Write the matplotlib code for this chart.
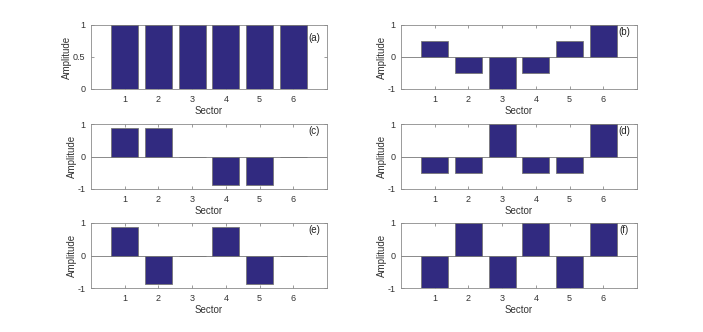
import matplotlib
matplotlib.use("Agg")
import matplotlib.pyplot as plt

plt.rcParams['font.family'] = ['Liberation Sans', 'DejaVu Sans']
plt.rcParams['axes.unicode_minus'] = False

sectors = [1, 2, 3, 4, 5, 6]
tick_labels = ['1', '2', '3', '4', '5', '6']
amp_a = [1, 1, 1, 1, 1, 1]
amp_b = [0.5, -0.5, -1, -0.5, 0.5, 1]
amp_c = [0.866, 0.866, 0, -0.866, -0.866, 0]
amp_d = [-0.5, -0.5, 1, -0.5, -0.5, 1]
amp_e = [0.866, -0.866, 0, 0.866, -0.866, 0]
amp_f = [-1, 1, -1, 1, -1, 1]
panel_labels = ['(a)', '(b)', '(c)', '(d)', '(e)', '(f)']
series = [amp_a, amp_b, amp_c, amp_d, amp_e, amp_f]

fig = plt.figure(figsize=(7.03, 3.32), dpi=100)
lefts = [91/703, 401/703]
w = 236/703
rows = [(25, 89), (124, 189), (223, 288)]

bar_color = '#312a80'
axis_color = '#8a8a8a'
text_color = '#333333'

for i, (vals, lab) in enumerate(zip(series, panel_labels)):
    r, c = divmod(i, 2)
    top, bot = rows[r]
    ax = fig.add_axes([lefts[c], 1 - bot/332, w, (bot - top)/332])
    ax.bar(sectors, vals, width=0.8, color=bar_color, edgecolor='#777777', linewidth=0.6, zorder=3)
    ax.set_xlim(0, 7)
    if i == 0:
        ax.set_ylim(0, 1)
        ax.set_yticks([0, 0.5, 1])
        ax.set_yticklabels(['0', '0.5', '1'])
        lab_y = 0.79
    else:
        ax.set_ylim(-1, 1)
        ax.set_yticks([-1, 0, 1])
        ax.set_yticklabels(['-1', '0', '1'])
        ax.axhline(0, color='#8a8a8a', linewidth=0.7, zorder=2)
        lab_y = 0.89
    ax.set_xticks(sectors)
    ax.set_xticklabels(tick_labels)
    ax.tick_params(direction='in', top=True, right=True, length=2.5, width=0.6,
                   labelsize=6.5, colors=axis_color, labelcolor=text_color, pad=4)
    for s in ax.spines.values():
        s.set_color(axis_color)
        s.set_linewidth(0.6)
    ax.set_xlabel('Sector', fontsize=7, color=text_color, labelpad=2)
    ax.set_ylabel('Amplitude', fontsize=7, color=text_color, labelpad=0.5)
    ax.text(0.945, lab_y, lab, transform=ax.transAxes, ha='center', va='center',
            fontsize=7, color='#222222')

fig.savefig('out.png', dpi=100)
